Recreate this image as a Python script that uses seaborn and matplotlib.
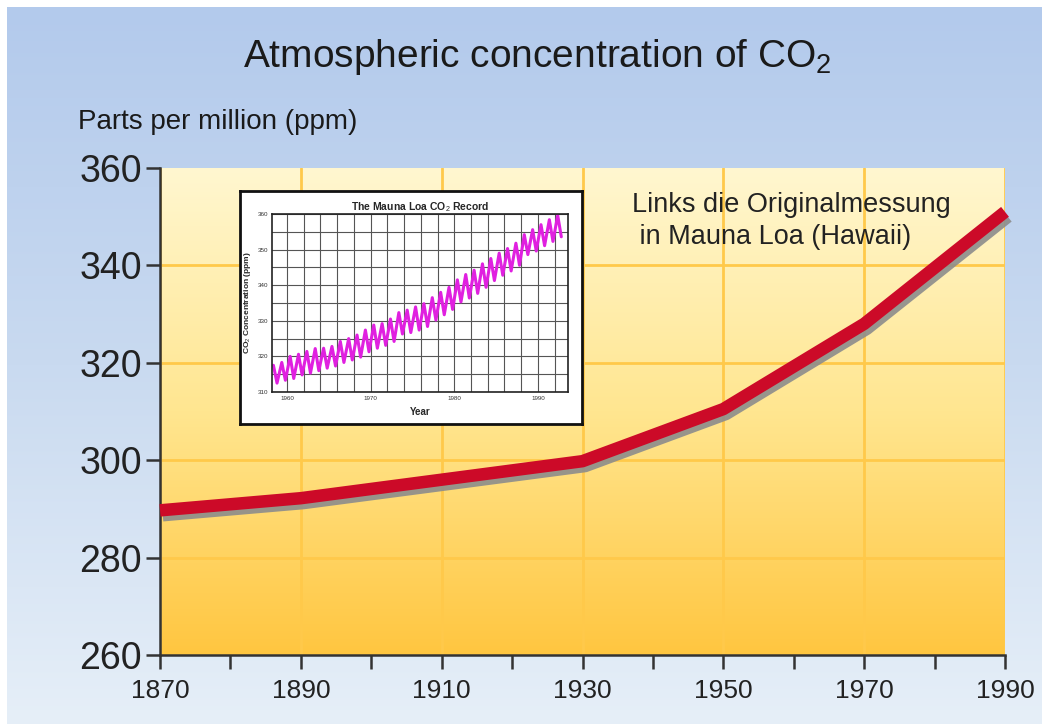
import numpy as np
import pandas as pd
import matplotlib
matplotlib.use("Agg")
import matplotlib.pyplot as plt
import matplotlib.patheffects as pe
from matplotlib.colors import LinearSegmentedColormap
import seaborn as sns

# ---------------- data ----------------
years = [1870, 1890, 1910, 1930, 1950, 1970, 1990]
ppm = [289.7, 292.2, 296.0, 299.8, 310.5, 328.0, 351.0]

x_ticks = [1870, 1890, 1910, 1930, 1950, 1970, 1990]
y_ticks = [260, 280, 300, 320, 340, 360]

# Mauna Loa inset: seasonal peaks (spring) and troughs (autumn)
ml_years = [1958, 1959, 1960, 1961, 1962, 1963, 1964, 1965, 1966, 1967, 1968,
            1969, 1970, 1971, 1972, 1973, 1974, 1975, 1976, 1977, 1978, 1979,
            1980, 1981, 1982, 1983, 1984, 1985, 1986, 1987, 1988, 1989, 1990,
            1991, 1992]
ml_peaks = [317.5, 318.3, 320.0, 320.6, 321.4, 322.2, 322.3, 322.8, 324.2, 325.0,
            326.0, 327.4, 328.8, 329.2, 330.5, 332.3, 333.0, 333.9, 334.8, 336.5,
            338.0, 339.4, 341.5, 343.0, 344.2, 346.0, 347.5, 349.0, 350.3, 351.8,
            354.2, 355.6, 357.0, 358.4, 359.6]
ml_troughs = [312.5, 313.3, 313.8, 314.8, 315.3, 316.0, 316.7, 317.3, 318.3, 319.0,
              319.8, 321.3, 322.3, 323.1, 324.2, 326.3, 326.7, 327.4, 328.4, 330.2,
              331.7, 333.2, 335.3, 336.4, 337.7, 339.4, 341.3, 342.8, 344.0, 345.6,
              348.6, 349.6, 351.1, 352.3, 353.6]
ml_xticks = [1960, 1970, 1980, 1990]
ml_yticks = [310, 320, 330, 340, 350, 360]

title = "Atmospheric concentration of CO$_2$"
ylabel_txt = "Parts per million (ppm)"
note_txt = "Links die Originalmessung\n in Mauna Loa (Hawaii)"

# ---------------- figure ----------------
sns.set_style("white")
plt.rcParams["font.family"] = ["Liberation Sans", "DejaVu Sans"]
plt.rcParams["mathtext.fontset"] = "custom"
plt.rcParams["mathtext.rm"] = "Liberation Sans"

W, H = 1042, 724
fig = plt.figure(figsize=(W / 100, H / 100), dpi=100)
fig.patch.set_facecolor("white")

# background blue gradient
bg = fig.add_axes([0, 0, 1, 1], zorder=0)
bg.set_xlim(0, W)
bg.set_ylim(H, 0)
bg.axis("off")
bg_cmap = LinearSegmentedColormap.from_list("bg", ["#b3caec", "#c9daf0", "#e6eff8"])
bg.imshow(np.linspace(0, 1, 256).reshape(-1, 1), cmap=bg_cmap, aspect="auto",
          extent=(7, W, H, 7), interpolation="bicubic")

def fx(px):
    return px / W

def fy(py):
    return 1 - py / H

# main axes
ax = fig.add_axes([fx(160), fy(655), fx(1005) - fx(160), fy(168) - fy(655)], zorder=1)
ax.patch.set_alpha(0)
yl_cmap = LinearSegmentedColormap.from_list("yl", ["#fff7d0", "#ffe690", "#ffc640"])
ax.imshow(np.linspace(0, 1, 256).reshape(-1, 1), cmap=yl_cmap, aspect="auto",
          extent=(1870, 1990, 260, 360), zorder=0, interpolation="bicubic")

df = pd.DataFrame({"year": years, "ppm": ppm})
sns.lineplot(data=df, x="year", y="ppm", ax=ax, color="#cc0a28", lw=9,
             solid_capstyle="butt", solid_joinstyle="round", clip_on=False, zorder=3,
             path_effects=[pe.SimpleLineShadow(offset=(2.0, -3.5), shadow_color="#8c8c8c",
                                               alpha=0.9),
                           pe.Normal()])

ax.set_xlim(1870, 1990)
ax.set_ylim(260, 360)
ax.set_xticks(x_ticks)
ax.set_xticks(np.arange(1870, 1991, 10), minor=True)
ax.set_yticks(y_ticks)
ax.set_xlabel("")
ax.set_ylabel("")
ax.grid(True, which="major", color="#ffc94a", lw=2.0, zorder=0.5)
ax.set_axisbelow(True)
for t in ax.xaxis.get_major_ticks():
    if t.get_loc() in (1870, 1990):
        t.gridline.set_visible(False)
for t in ax.yaxis.get_major_ticks():
    if t.get_loc() in (260, 360):
        t.gridline.set_visible(False)

for s in ["top", "right"]:
    ax.spines[s].set_visible(False)
for s in ["left", "bottom"]:
    ax.spines[s].set_color("#333333")
    ax.spines[s].set_linewidth(1.8)
ax.tick_params(axis="y", which="major", length=10, width=1.8, color="#333333",
               labelsize=27, labelcolor="#222222", pad=3, left=True)
ax.tick_params(axis="x", which="both", length=10, width=1.8, color="#333333",
               labelsize=19, labelcolor="#222222", pad=7, bottom=True)

# texts
fig.text(fx(537), fy(57), title, ha="center", va="center", fontsize=28, color="#1a1a1a")
fig.text(fx(78), fy(122), ylabel_txt, ha="left", va="center", fontsize=20, color="#1a1a1a")
fig.text(fx(632), fy(221), note_txt, ha="left", va="center", fontsize=19.5,
         color="#222222", linespacing=1.3, zorder=5)

# inset frame
box = fig.add_axes([fx(240), fy(424), fx(582) - fx(240), fy(191) - fy(424)], zorder=4)
box.set_facecolor("white")
box.set_xticks([])
box.set_yticks([])
for s in box.spines.values():
    s.set_linewidth(2)
    s.set_color("#111111")

ins = fig.add_axes([fx(272), fy(392), fx(568) - fx(272), fy(214) - fy(392)], zorder=5)
ins.set_facecolor("white")
ml_t = []
ml_v = []
for y, p, tr in zip(ml_years, ml_peaks, ml_troughs):
    ml_t += [y + 0.37, y + 0.8]
    ml_v += [p, tr]
ml_df = pd.DataFrame({"t": ml_t, "v": ml_v})
sns.lineplot(data=ml_df, x="t", y="v", ax=ins, color="#e020e0", lw=2.2)
ins.set_xlim(1958.2, 1993.6)
ins.set_ylim(310, 360)
ins.set_xticks(ml_xticks)
ins.set_xticks(np.arange(1960, 1994, 2), minor=True)
ins.set_yticks(ml_yticks)
ins.set_yticks(np.arange(310, 361, 5), minor=True)
ins.grid(True, which="both", color="#555555", lw=0.8)
ins.set_axisbelow(True)
ins.tick_params(which="both", length=0, labelsize=4.5, pad=3, labelcolor="#333333")
for s in ins.spines.values():
    s.set_linewidth(1.2)
    s.set_color("#222222")
ins.set_xlabel("Year", fontsize=7, fontweight="bold", labelpad=4)
ins.set_ylabel("CO$_2$ Concentration (ppm)", fontsize=6, fontweight="bold", labelpad=3)
ins.set_title("The Mauna Loa CO$_2$ Record", fontsize=7.5, fontweight="bold", pad=3)

fig.savefig("out.png", dpi=100)
